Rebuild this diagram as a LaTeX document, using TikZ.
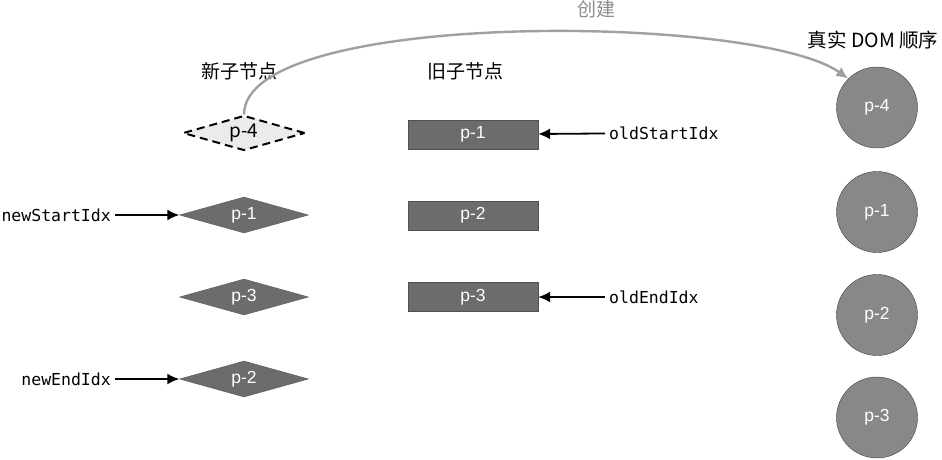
\documentclass[tikz,border=0pt]{standalone}
\usepackage{fontspec}
\setsansfont{Liberation Sans}
\setmonofont{DejaVu Sans Mono}
\newfontfamily\cjk{Noto Sans CJK SC}
\usetikzlibrary{arrows.meta,shapes.geometric}
\tikzset{>={Latex[width=11pt,length=12pt]}}
\definecolor{darkfill}{RGB}{108,108,108}
\definecolor{domfill}{RGB}{136,136,136}
\definecolor{curvegray}{RGB}{160,160,160}

\begin{document}
\begin{tikzpicture}[x=1pt,y=-1pt,
  newnode/.style={diamond, shape aspect=3.6, inner sep=0pt, minimum width=129pt,
    minimum height=36pt, fill=darkfill, draw=darkfill!80!black, text=white,
    font=\sffamily\fontsize{17.5}{19}\selectfont},
  oldnode/.style={rectangle, inner sep=0pt, minimum width=130pt, minimum height=29pt,
    fill=darkfill, draw=darkfill!75!black, text=white,
    font=\sffamily\fontsize{17.5}{19}\selectfont},
  domnode/.style={circle, inner sep=0pt, minimum size=81pt, fill=domfill,
    draw=black!75, text=white, font=\sffamily\fontsize{17.5}{19}\selectfont},
  idx/.style={inner sep=4pt, font=\ttfamily\fontsize{16.5}{18}\selectfont},
  title/.style={inner sep=0pt, font=\cjk\fontsize{19}{21}\selectfont}]

  \useasboundingbox (0,0) rectangle (942,459);

  \newcommand\XN{244}
  \newcommand\XO{473}
  \newcommand\XD{877}

  % column titles
  \node[title] (tnew) at (239,71) {新子节点};
  \node[title] (told) at (465,71) {旧子节点};
  \node[title, font=\cjk\fontsize{19.5}{21}\selectfont] (tdom) at (873,40) {真实 DOM 顺序};

  % new children
  \node[newnode, fill=black!8, draw=black, line width=2pt,
    dash pattern=on 8pt off 5pt, minimum width=122pt, minimum height=35pt, text=black,
    font=\cjk\fontsize{19}{21}\selectfont] (n4) at (\XN,133) {p-4};
  \node[newnode] (n1) at (\XN,215) {p-1};
  \node[newnode] (n3) at (\XN,297) {p-3};
  \node[newnode] (n2) at (\XN,379) {p-2};

  % old children
  \node[oldnode] (o1) at (\XO,134.5) {p-1};
  \node[oldnode] (o2) at (\XO,215.5) {p-2};
  \node[oldnode] (o3) at (\XO,297) {p-3};

  % real DOM
  \node[domnode] (d4) at (\XD,107.5) {p-4};
  \node[domnode] (d1) at (\XD,212) {p-1};
  \node[domnode] (d2) at (\XD,315) {p-2};
  \node[domnode] (d3) at (\XD,417.5) {p-3};

  % indices
  \node[idx, anchor=east] (ns) at (115,215) {newStartIdx};
  \node[idx, anchor=east] (ne) at (115,379) {newEndIdx};
  \node[idx, anchor=west] (os) at (605,133) {oldStartIdx};
  \node[idx, anchor=west] (oe) at (605,297) {oldEndIdx};

  \draw[->, line width=1.8pt] (ns) -- (n1);
  \draw[->, line width=1.8pt] (ne) -- (n2);
  \draw[->, line width=1.8pt] (os) -- (o1);
  \draw[->, line width=1.8pt] (oe) -- (o3);

  % create p-4
  \draw[->, curvegray, line width=2.4pt, >={Latex[width=11pt,length=12pt]}]
    (n4.north) .. controls +(0,-106) and +(-90,-65) .. (d4.north west)
    node[pos=0.6, above=13pt, inner sep=0pt, font=\cjk\fontsize{19}{21}\selectfont,
      text=black!45] (create) {创建};

\end{tikzpicture}
\end{document}
